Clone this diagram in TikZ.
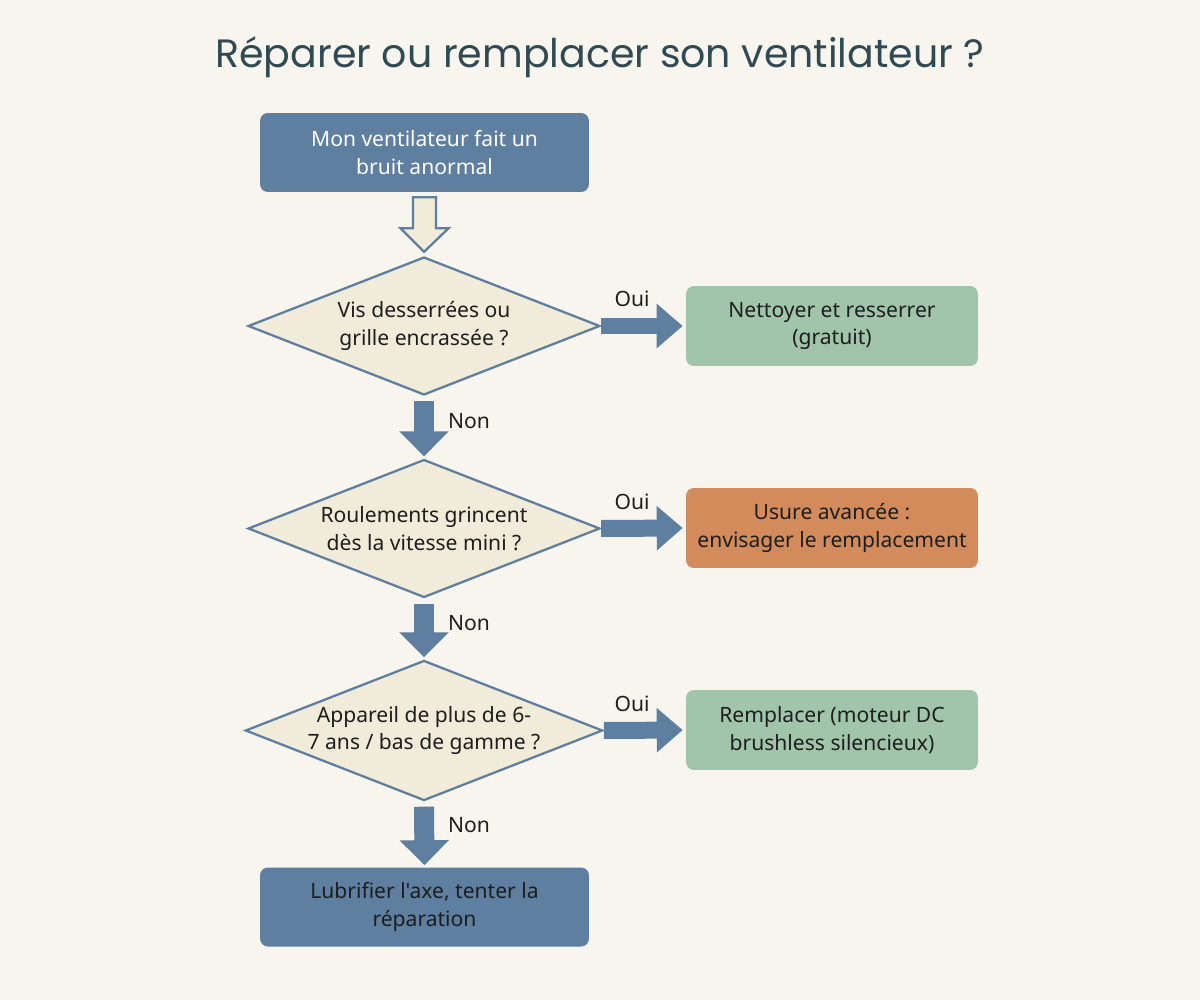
\documentclass[tikz,border=0pt]{standalone}
\usepackage{fontspec}
\setmainfont{Noto Sans}[Ligatures=TeXOff]
\newfontfamily\titlefont{Poppins}
\usetikzlibrary{shapes.geometric,arrows.meta,calc}
\definecolor{bg}{HTML}{F8F5EE}
\definecolor{bluebox}{HTML}{5E7F9F}
\definecolor{diafill}{HTML}{F1EBDA}
\definecolor{greenbox}{HTML}{A0C5AB}
\definecolor{orangebox}{HTML}{D38B5B}
\definecolor{titlecol}{HTML}{2F4A52}
\definecolor{txt}{HTML}{1E1E1E}
\begin{document}
\begin{tikzpicture}[x=0.02cm,y=-0.02cm,
  every node/.style={font=\fontsize{12}{15.8}\selectfont},
  box/.style={rectangle, rounded corners=4.5pt, align=center, inner sep=0pt},
  bluenode/.style={box, fill=bluebox, minimum width=6.58cm, minimum height=1.58cm},
  sidenode/.style={box, minimum width=5.84cm, minimum height=1.6cm, text=txt},
  decision/.style={diamond, draw=bluebox, line width=1.3pt, fill=diafill, align=center,
    inner sep=0pt, aspect=2.55, minimum width=7.04cm, minimum height=2.76cm, text=txt},
  vflow/.style={draw=bluebox, line width=0.4cm, -{Triangle[length=0.5cm,width=0.96cm]},
    shorten <=0.1cm, shorten >=0.04cm},
  hflow/.style={draw=bluebox, line width=0.34cm, -{Triangle[length=0.52cm,width=0.86cm]},
    shorten >=0.06cm},
  lbl/.style={text=txt, inner sep=0pt}
]
\fill[bg] (0,0) rectangle (1200,1000);
\useasboundingbox (0,0) rectangle (1200,1000);

\node[text=titlecol, font=\titlefont\fontsize{22.5}{26}\selectfont] (title) at (600,57) {Réparer ou remplacer son ventilateur ?};

\node[bluenode, text=white] (b1) at (424.5,152.5) {Mon ventilateur fait un\\bruit anormal};

\node[decision] (d1) at (424,326) {Vis desserrées ou\\grille encrassée ?};
\node[decision] (d2) at (424,528.5) {Roulements grincent\\dès la vitesse mini ?};
\node[decision] (d3) at (424,730.5) {Appareil de plus de 6-\\7 ans / bas de gamme ?};

\node[sidenode, fill=greenbox] (r1) at (832,326) {Nettoyer et resserrer\\(gratuit)};
\node[sidenode, fill=orangebox] (r2) at (832,528) {Usure avancée :\\envisager le remplacement};
\node[sidenode, fill=greenbox] (r3) at (832,730) {Remplacer (moteur DC\\brushless silencieux)};

\node[bluenode, text=txt] (b2) at (424.5,907) {Lubrifier l'axe, tenter la\\réparation};

% hollow arrow
\draw[bluebox, line width=1.3pt, fill=diafill, line join=miter]
  ($(b1.south)+(-11.5,5)$) -- ($(b1.south)+(11.5,5)$) -- ($(b1.south)+(11.5,36)$)
  -- ($(b1.south)+(24,36)$) -- ($(d1.north)+(0,-4)$) -- ($(b1.south)+(-24,36)$)
  -- ($(b1.south)+(-11.5,36)$) -- cycle;

\draw[hflow] (d1.east) -- (r1.west);
\draw[hflow] (d2.east) -- (r2.west);
\draw[hflow] (d3.east) -- (r3.west);
\draw[vflow] (d1.south) -- (d2.north);
\draw[vflow] (d2.south) -- (d3.north);
\draw[vflow] (d3.south) -- (b2.north);

\node[lbl] (o1) at (632,299) {Oui};
\node[lbl] (o2) at (632,502) {Oui};
\node[lbl] (o3) at (632,704) {Oui};
\node[lbl] (n1) at (469,421) {Non};
\node[lbl] (n2) at (469,623) {Non};
\node[lbl] (n3) at (469,825) {Non};
\end{tikzpicture}
\end{document}
